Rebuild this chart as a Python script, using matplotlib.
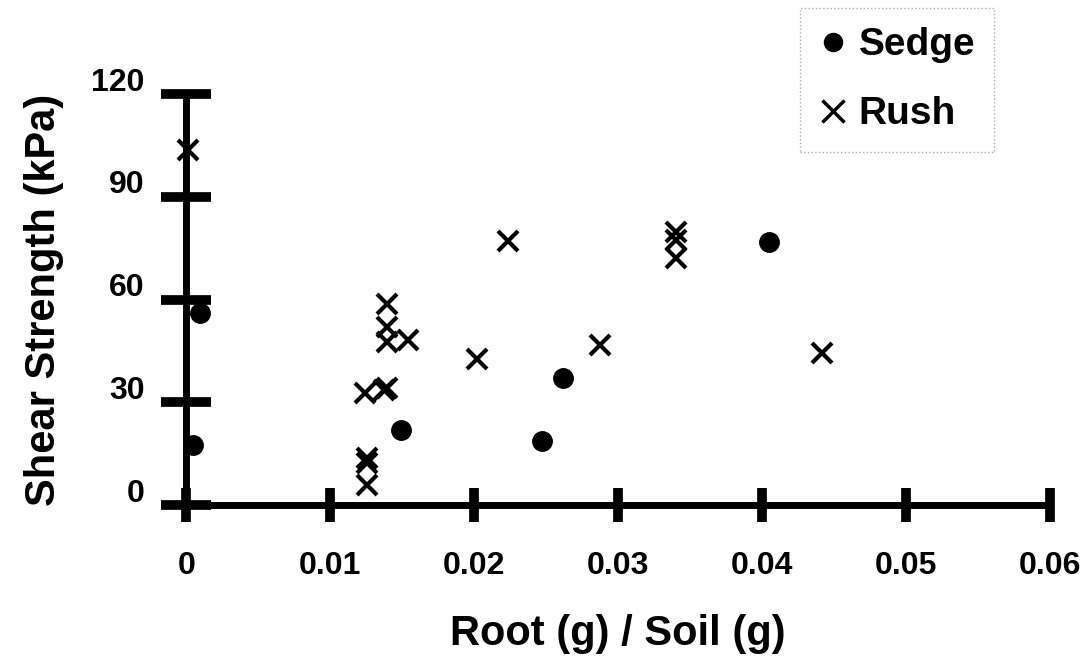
import matplotlib
matplotlib.use('Agg')
import matplotlib.pyplot as plt
import matplotlib.transforms as mtransforms
from matplotlib.lines import Line2D

plt.rcParams['font.family'] = ['Liberation Sans', 'DejaVu Sans']

# ── Data ──────────────────────────────────────────────────────────────────────
sedge_x = [0.00045, 0.00094, 0.0149, 0.02468, 0.02619, 0.04047]
sedge_y = [17.5, 56.0, 21.9, 18.8, 37.2, 76.9]

rush_x = [0.0001, 0.02234, 0.02017, 0.02873, 0.0340, 0.0340, 0.0340, 0.04416,
          0.01391, 0.01391, 0.01391, 0.01539, 0.0124, 0.01373, 0.01391,
          0.01252, 0.01252, 0.01252]
rush_y = [103.6, 77.2, 42.6, 46.7, 79.8, 77.4, 72.1, 44.4,
          58.7, 52.1, 47.7, 48.2, 32.6, 33.6, 34.1,
          13.6, 12.2, 5.8]

x_ticks = [0, 0.01, 0.02, 0.03, 0.04, 0.05, 0.06]
x_labels = ['0', '0.01', '0.02', '0.03', '0.04', '0.05', '0.06']
y_ticks = [0, 30, 60, 90, 120]

# ── Figure ───────────────────────────────────────────────────────────────────
fig = plt.figure(figsize=(10.9, 6.63), dpi=100)
ax = fig.add_axes([0.1711, 0.2383, 0.9633 - 0.1711, 0.8582 - 0.2383])

ax.plot(sedge_x, sedge_y, 'o', color='black', markersize=14,
        clip_on=False, zorder=5, label='Sedge')
ax.plot(rush_x, rush_y, 'x', color='black', markersize=15, mew=3,
        clip_on=False, zorder=5, label='Rush')

ax.set_xlim(0, 0.06)
ax.set_ylim(0, 120)

for s in ['top', 'right']:
    ax.spines[s].set_visible(False)
for s in ['left', 'bottom']:
    ax.spines[s].set_linewidth(5)
    ax.spines[s].set_capstyle('butt')

ax.set_xticks(x_ticks)
ax.set_xticklabels(x_labels)
ax.set_yticks(y_ticks)
ax.tick_params(axis='x', direction='inout', length=24, width=7, pad=21,
               labelsize=23)
ax.tick_params(axis='y', direction='inout', length=36, width=7, pad=12,
               labelsize=23)
for lab in ax.get_xticklabels() + ax.get_yticklabels():
    lab.set_fontweight('bold')

# y tick labels sit a little above their ticks in the original
shift = mtransforms.ScaledTranslation(0, 0.15, fig.dpi_scale_trans)
for lab in ax.get_yticklabels():
    lab.set_transform(lab.get_transform() + shift)

ax.set_xlabel('Root (g) / Soil (g)', fontsize=30, fontweight='bold', labelpad=24)
ax.set_ylabel('Shear Strength (kPa)', fontsize=30, fontweight='bold', labelpad=20)

handles = [Line2D([], [], marker='o', ls='none', color='black', markersize=13),
           Line2D([], [], marker='x', ls='none', color='black', markersize=16, mew=2.5)]
leg = fig.legend(handles, ['Sedge', 'Rush'], loc='upper left',
                 bbox_to_anchor=(0.734, 0.988), frameon=True, fancybox=False,
                 prop={'size': 28, 'weight': 'bold'}, handlelength=0.7,
                 handletextpad=0.3, labelspacing=0.85, borderpad=0.5,
                 borderaxespad=0)
leg.get_frame().set_edgecolor('#999999')
leg.get_frame().set_linestyle(':')
leg.get_frame().set_linewidth(1)

fig.savefig('out.png', dpi=100)
plt.close(fig)
